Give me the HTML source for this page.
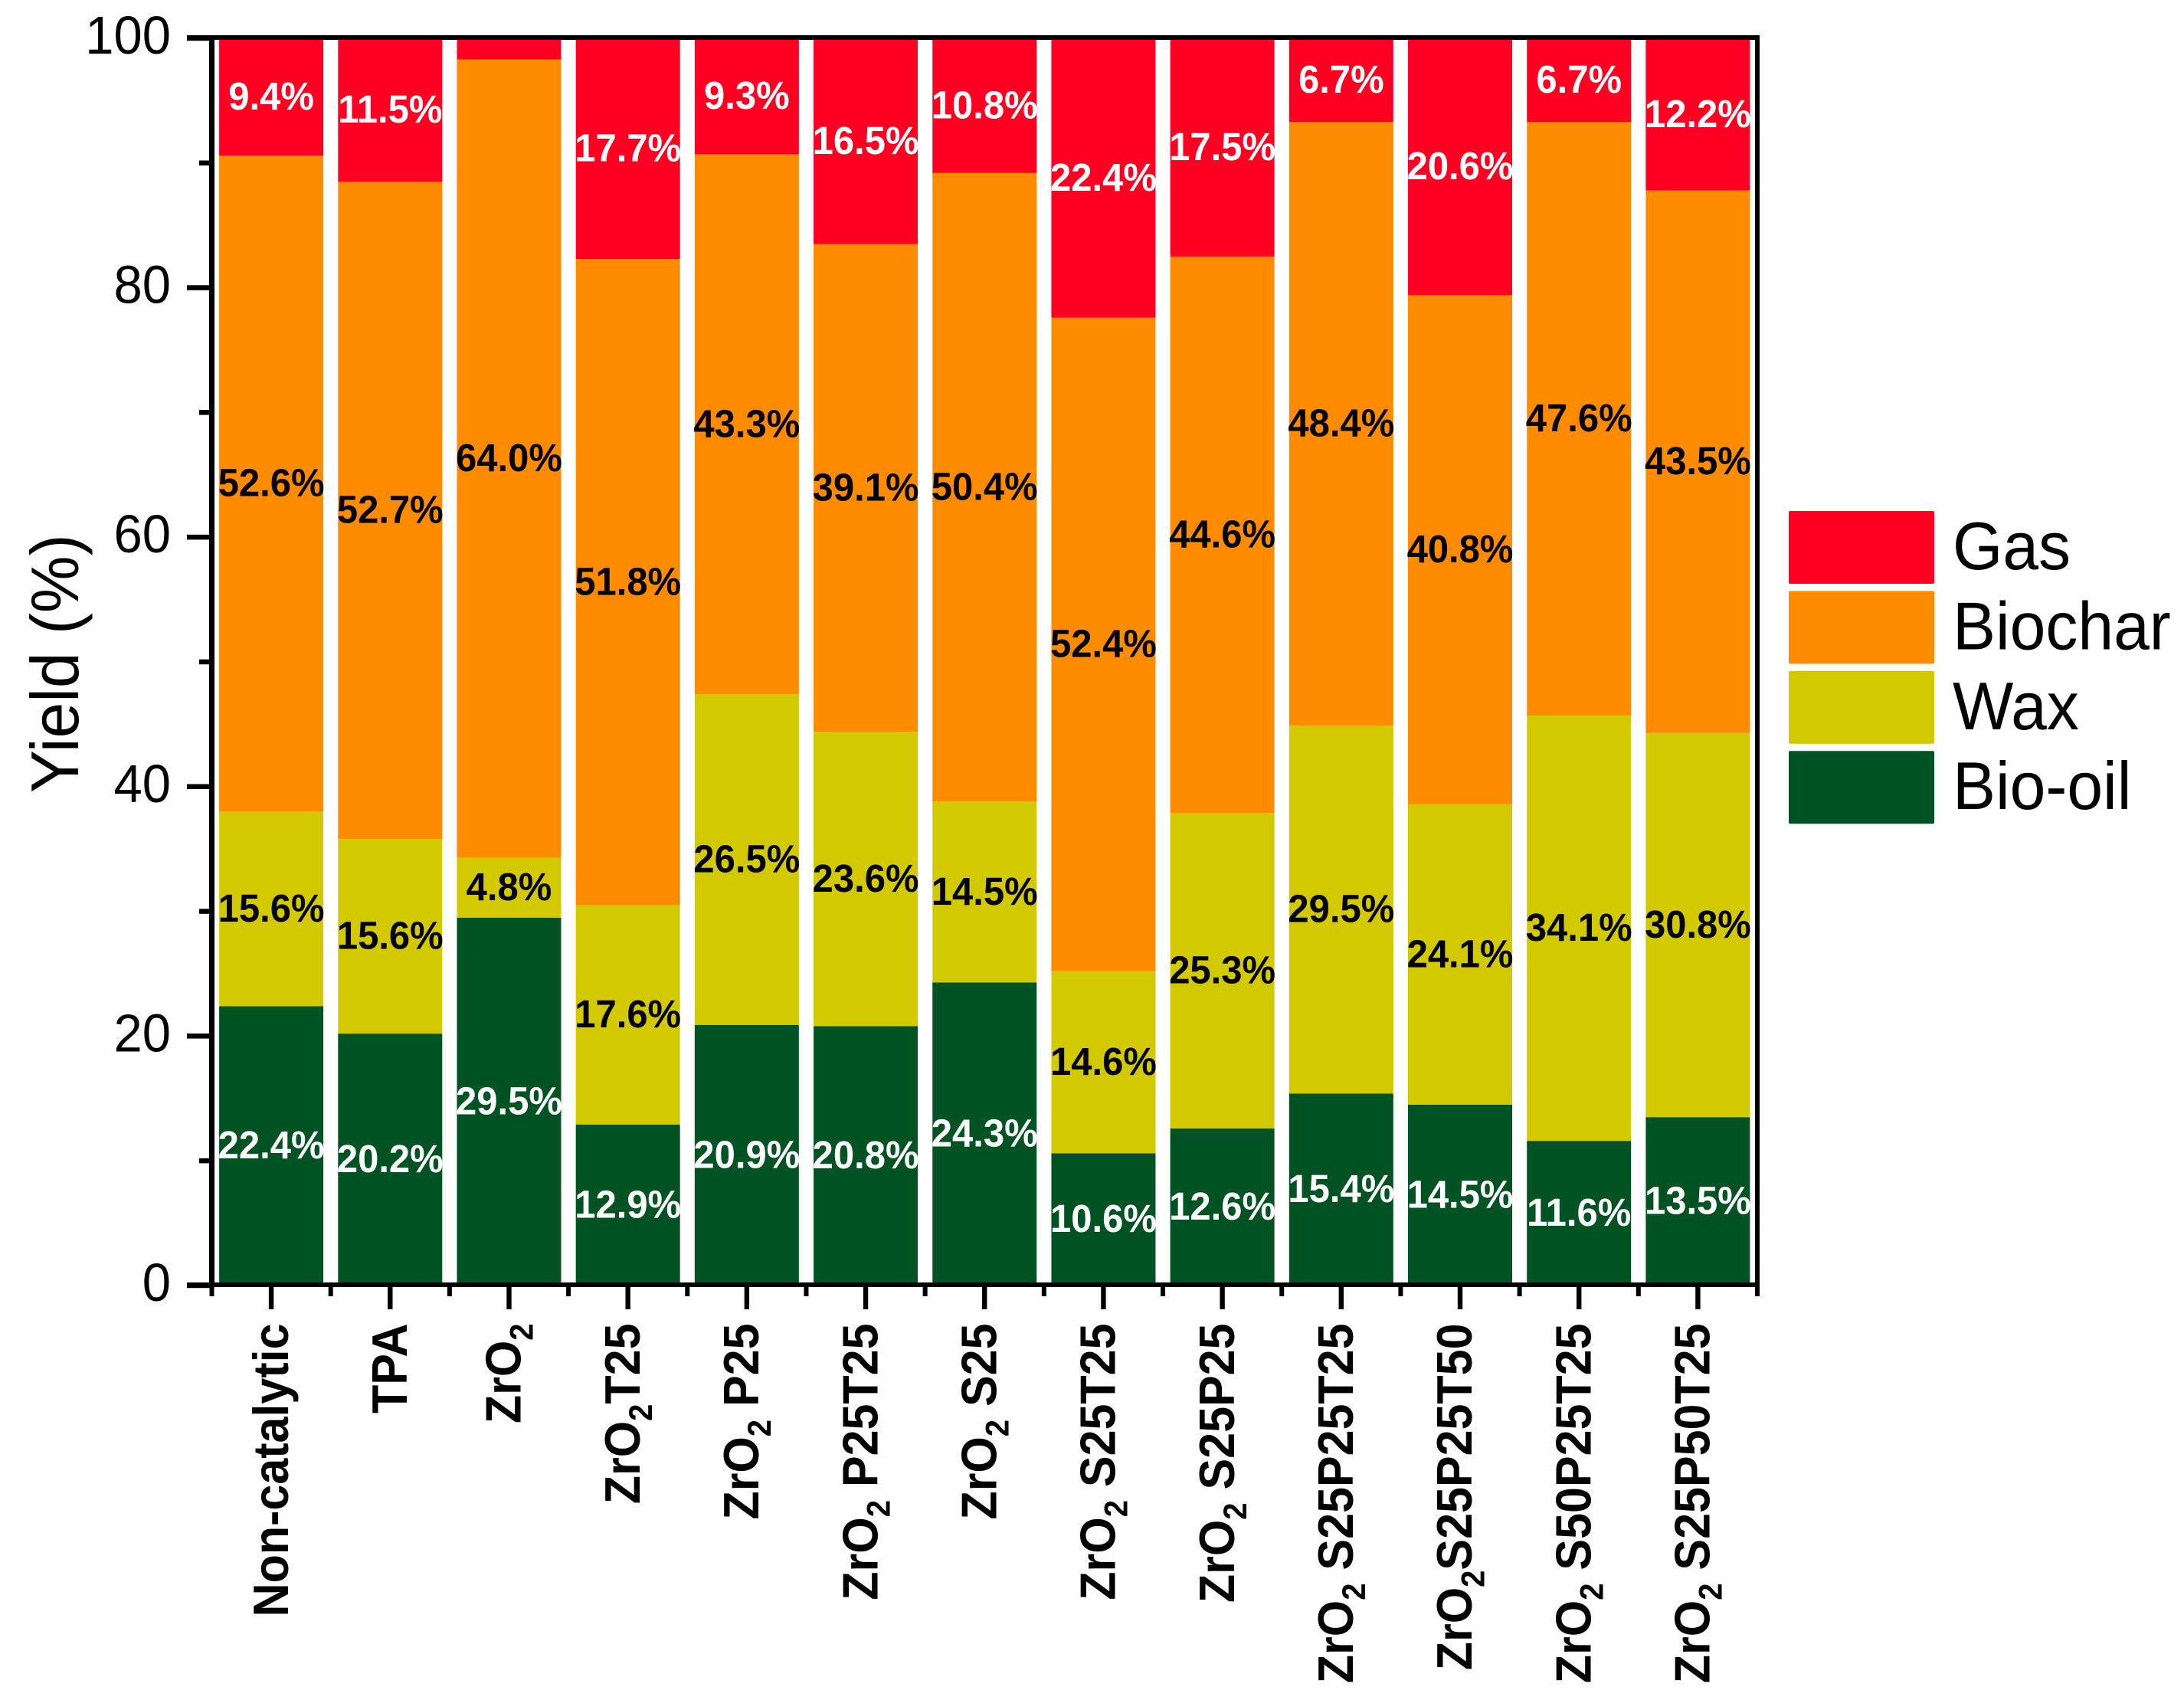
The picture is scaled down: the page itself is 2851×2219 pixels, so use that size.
<!DOCTYPE html>
<html lang="en">
<head>
<meta charset="utf-8">
<title>Product yield by catalyst</title>
<style>
html,body{margin:0;padding:0;background:#fff;}
svg{display:block;}
text{font-family:"Liberation Sans",Arial,sans-serif;}
</style>
</head>
<body>
<svg id="chart" xmlns="http://www.w3.org/2000/svg" width="2851" height="2219" viewBox="0 0 2851 2219"></svg>
<script>
const categories = ["Non-catalytic","TPA","ZrO2","ZrO2T25","ZrO2 P25","ZrO2 P25T25","ZrO2 S25","ZrO2 S25T25","ZrO2 S25P25","ZrO2 S25P25T25","ZrO2S25P25T50","ZrO2 S50P25T25","ZrO2 S25P50T25"];
const bioOil = [22.4,20.2,29.5,12.9,20.9,20.8,24.3,10.6,12.6,15.4,14.5,11.6,13.5];
const wax = [15.6,15.6,4.8,17.6,26.5,23.6,14.5,14.6,25.3,29.5,24.1,34.1,30.8];
const biochar = [52.6,52.7,64.0,51.8,43.3,39.1,50.4,52.4,44.6,48.4,40.8,47.6,43.5];
const gas = [9.4,11.5,1.7,17.7,9.3,16.5,10.8,22.4,17.5,6.7,20.6,6.7,12.2];
const hiddenLabelBelow = 2;
const yMajorTicks = [0,20,40,60,80,100];
const yMinorTicks = [10,30,50,70,90];
const seriesNames = ["Bio-oil","Wax","Biochar","Gas"];
const legendOrder = ["Gas","Biochar","Wax","Bio-oil"];

const NS = "http://www.w3.org/2000/svg";
const svg = document.getElementById("chart");
const colors = {"Bio-oil":"#015323","Wax":"#d3c900","Biochar":"#ff8c00","Gas":"#ff0022"};
const labelColors = {"Bio-oil":"#fff","Wax":"#000","Biochar":"#000","Gas":"#fff"};
const seriesValues = {"Bio-oil":bioOil,"Wax":wax,"Biochar":biochar,"Gas":gas};

const plotLeft = 276.5, plotRight = 2294, yZero = 1678, yHundred = 50;
const band = (plotRight - plotLeft) / categories.length;
function xCenter(i){ return plotLeft + band * (i + 0.5); }
function xEdge(i){ return plotLeft + band * i; }
function yScale(v){ return yZero - (yZero - yHundred) * v / 100; }
const barWidth = 136;

function mk(tag, attrs, parent){
  const e = document.createElementNS(NS, tag);
  for (const k in attrs) e.setAttribute(k, attrs[k]);
  (parent || svg).appendChild(e);
  return e;
}
function slug(s){ return s.toLowerCase().replace(/[^a-z0-9]+/g, "-").replace(/^-|-$/g, ""); }

/* stacked bars */
categories.forEach(function(cat, i){
  let base = 0;
  seriesNames.forEach(function(name){
    const v = seriesValues[name][i];
    const yTop = yScale(base + v);
    const yBot = yScale(base);
    const r = mk("rect", {x: xCenter(i) - barWidth / 2, y: yTop, width: barWidth, height: yBot - yTop, fill: colors[name]});
    
    
    base += v;
  });
});

/* value labels */
categories.forEach(function(cat, i){
  let base = 0;
  seriesNames.forEach(function(name){
    const v = seriesValues[name][i];
    if (v >= hiddenLabelBelow) {
      const yMid = (yScale(base) + yScale(base + v)) / 2;
      const t = mk("text", {transform: "translate(" + xCenter(i) + "," + (yMid + 16.5) + ") scale(1,1.05)", "text-anchor": "middle", "font-size": 49, "font-weight": "bold", fill: labelColors[name]});
      t.textContent = v.toFixed(1) + "%";
      
      
    }
    base += v;
  });
});

/* y ticks */
yMajorTicks.forEach(function(v){
  const l = mk("rect", {x: 244, y: yScale(v) - 3.3, width: 32, height: 6.5, fill: "#000"});
  
  
  const t = mk("text", {transform: "translate(223," + (yScale(v) + 20) + ") scale(1,1.04)", "text-anchor": "end", "font-size": 67, fill: "#000"});
  t.textContent = String(v);
  
  
});
yMinorTicks.forEach(function(v){
  const l = mk("rect", {x: 260, y: yScale(v) - 3.3, width: 16, height: 6.5, fill: "#000"});
  
  
});

/* x ticks and labels */
for (let i = 0; i <= categories.length; i++) {
  const m = mk("rect", {x: xEdge(i) - 3, y: 1678, width: 6, height: 14, fill: "#000"});
  
  
}
categories.forEach(function(cat, i){
  const tk = mk("rect", {x: xCenter(i) - 3.2, y: 1678, width: 6.4, height: 31, fill: "#000"});
  
  
  const hasSub = cat.indexOf("ZrO2") === 0;
  const bx = xCenter(i) + (hasSub ? 15.2 : 21.7);
  const t = mk("text", {transform: "translate(" + bx + ",1727.5) rotate(-90) scale(1,1.07)", "text-anchor": "end", "font-size": 61, "font-weight": "bold", fill: "#000"});
  t.setAttribute('xml:space', 'preserve');
  
  
  if (hasSub) {
    const a = mk("tspan", {}, t);
    a.textContent = "ZrO";
    const s = mk("tspan", {dy: 15, "font-size": 40}, t);
    s.textContent = "2";
    const rest = cat.slice(4);
    if (rest) {
      const b = mk("tspan", {dy: -15}, t);
      b.textContent = rest.replace(" ", "\u00a0");
    }
  } else {
    t.textContent = cat;
  }
});

/* frame */
const spineTop = mk("rect", {x: 244, y: 46, width: 2053, height: 6, fill: "#000"});


const spineBottom = mk("rect", {x: 244, y: 1674, width: 2053, height: 6, fill: "#000"});


const spineLeft = mk("rect", {x: 273, y: 46, width: 7, height: 1634, fill: "#000"});


const spineRight = mk("rect", {x: 2291, y: 46, width: 6, height: 1634, fill: "#000"});



/* y axis title */
const yTitle = mk("text", {transform: "translate(102,1035) rotate(-90) scale(1,1.05)", "font-size": 84, fill: "#000"});
yTitle.textContent = "Yield (%)";



/* legend */
legendOrder.forEach(function(name, i){
  const top = 667 + i * 104.4;
  const r = mk("rect", {x: 2335, y: top, width: 190, height: 95, rx: 2, fill: colors[name]});
  
  
  const t = mk("text", {transform: "translate(2549," + (top + 76) + ") scale(1,1.05)", "font-size": 84, fill: "#000"});
  t.textContent = name;
  
  
});
</script>
</body>
</html>
